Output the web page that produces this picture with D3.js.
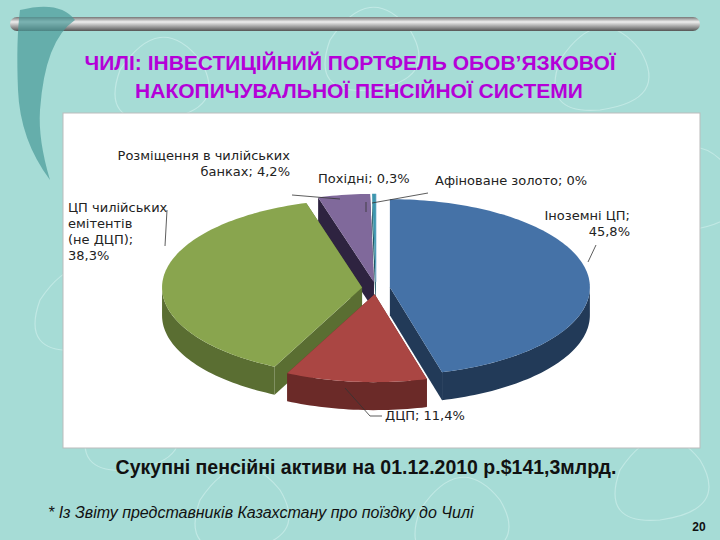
<!DOCTYPE html>
<html><head><meta charset="utf-8">
<script src="https://cdn.jsdelivr.net/npm/d3@7/dist/d3.min.js"></script>
<style>body{margin:0}svg{display:block}</style></head>
<body><svg id="c" width="720" height="540"></svg>
<script>
const categories=["Іноземні ЦП","ДЦП","ЦП чилійських емітентів (не ДЦП)","Розміщення в чилійських банках","Похідні","Афіноване золото"];
const values=[45.8,11.4,38.3,4.2,0.3,0.0];
const valueLabels=["45,8%","11,4%","38,3%","4,2%","0,3%","0%"];
const topColors=["#4572a7","#aa4643","#89a54e","#80699b","#3d96ae","#a0c0e0"];
const sideColors=["#223a58","#6b2a28","#5a6e32","#2e2340","#1f5966","#6080a0"];

const svg=d3.select("#c");
svg.append("rect").attr("width",720).attr("height",540).attr("fill","#a6dcd6");
const sw=svg.append("g").attr("fill","none").attr("stroke","#c8ece8").attr("stroke-width",1.2).attr("opacity",0.8);
[[120,70],[330,40],[560,60],[650,180],[40,300],[620,470],[200,500],[420,510],[90,420]].forEach(([x,y])=>{
  sw.append("path").attr("d",`M${x},${y} q40,-60 80,-10 q30,50 -40,60 q-60,5 -40,-50`);
});
const rg=svg.append("defs").append("linearGradient").attr("id","rod").attr("x1",0).attr("y1",0).attr("x2",0).attr("y2",1);
rg.append("stop").attr("offset","0").attr("stop-color","#777");
rg.append("stop").attr("offset","0.35").attr("stop-color","#eee");
rg.append("stop").attr("offset","1").attr("stop-color","#555");
svg.append("rect").attr("x",10).attr("y",17).attr("width",690).attr("height",14).attr("rx",7).attr("fill","url(#rod)");
svg.append("path").attr("d","M20,10 Q60,0 75,20 Q45,40 40,110 Q38,140 50,180 Q20,140 18,90 Q16,40 20,10Z").attr("fill","#4a9a98").attr("opacity",0.7);
const tf="'Liberation Sans Narrow','Liberation Sans',Arial,sans-serif";
svg.append("text").attr("x",350).attr("y",70).attr("text-anchor","middle").attr("font-family",tf).attr("font-weight","bold").attr("font-size",21).attr("fill","#b400d8").text("ЧИЛІ: ІНВЕСТИЦІЙНИЙ ПОРТФЕЛЬ ОБОВ’ЯЗКОВОЇ");
svg.append("text").attr("x",359).attr("y",98).attr("text-anchor","middle").attr("font-family",tf).attr("font-weight","bold").attr("font-size",21).attr("fill","#b400d8").text("НАКОПИЧУВАЛЬНОЇ ПЕНСІЙНОЇ СИСТЕМИ");
svg.append("rect").attr("x",63).attr("y",113).attr("width",637).attr("height",335).attr("fill","#fff").attr("stroke","#bbb");

const cx=376,cy=288,rx=200,ry=88,depth=28,expl=14;
const pie=d3.pie().sort(null).value(d=>d)(values);
const P=(a,ox,oy,dz=0)=>[ox+rx*Math.sin(a),oy-ry*Math.cos(a)+dz];
const slices=pie.map((p,i)=>{const m=(p.startAngle+p.endAngle)/2;
  return {i,a0:p.startAngle,a1:p.endAngle,m,ox:cx+expl*Math.sin(m),oy:cy-expl*Math.cos(m)*ry/rx};});
const arcPts=(s,dz)=>{const n=Math.max(2,Math.ceil((s.a1-s.a0)*40));return d3.range(n+1).map(k=>P(s.a0+(s.a1-s.a0)*k/n,s.ox,s.oy,dz));};
const line=d3.line();
const g=svg.append("g");
const order=slices.slice().sort((a,b)=>(-Math.cos(a.m))-(-Math.cos(b.m)));
order.forEach(s=>{
  if(s.a1-s.a0<=0)return;
  [s.a0,s.a1].forEach(a=>{const e=P(a,s.ox,s.oy);
    g.append("path").attr("d",line([[s.ox,s.oy],e,[e[0],e[1]+depth],[s.ox,s.oy+depth]])+"Z").attr("fill",sideColors[s.i]);});
  const lo=Math.max(s.a0,Math.PI/2),hi=Math.min(s.a1,3*Math.PI/2);
  if(hi>lo){const t={a0:lo,a1:hi,ox:s.ox,oy:s.oy};
    const top=arcPts(t,0),bot=arcPts(t,depth).reverse();
    g.append("path").attr("d",line(top.concat(bot))+"Z").attr("fill",sideColors[s.i]);}
});
order.forEach(s=>{
  if(s.a1-s.a0<=0){const e=P(s.a0,s.ox,s.oy);g.append("line").attr("x1",s.ox).attr("y1",s.oy).attr("x2",e[0]).attr("y2",e[1]).attr("stroke",topColors[s.i]);return;}
  g.append("path").attr("d",line([[s.ox,s.oy]].concat(arcPts(s,0)))+"Z").attr("fill",topColors[s.i]);
});

const lf="'DejaVu Sans',Verdana,sans-serif";
const labels=[
 {lines:["Іноземні ЦП;","45,8%"],x:630,y:220,anchor:"end",lead:[[596,245],[588,262]]},
 {lines:["ДЦП; 11,4%"],x:385,y:420,anchor:"start",lead:[[382,416],[370,416],[345,388]]},
 {lines:["ЦП чилійських","емітентів","(не ДЦП);","38,3%"],x:68,y:212,anchor:"start",lead:[[167,210],[165,246]]},
 {lines:["Розміщення в чилійських","банках; 4,2%"],x:290,y:160,anchor:"end",lead:[[292,195],[340,199]]},
 {lines:["Похідні; 0,3%"],x:318,y:183,anchor:"start",lead:[[366,202],[366,212]]},
 {lines:["Афіноване золото; 0%"],x:435,y:185,anchor:"start",lead:[[428,193],[372,203]]}
];
labels.forEach(l=>{
  const t=svg.append("text").attr("font-family",lf).attr("font-size",13).attr("fill","#222").attr("text-anchor",l.anchor);
  l.lines.forEach((s,k)=>t.append("tspan").attr("x",l.x).attr("y",l.y+k*16).text(s));
  svg.append("path").attr("d",line(l.lead)).attr("fill","none").attr("stroke","#333").attr("stroke-width",0.8);
});

svg.append("text").attr("x",366).attr("y",474).attr("text-anchor","middle").attr("font-family","'Liberation Sans',Arial,sans-serif").attr("font-weight","bold").attr("font-size",19.5).attr("fill","#111").text("Сукупні пенсійні активи на 01.12.2010 р.$141,3млрд.");
svg.append("text").attr("x",48).attr("y",518).attr("font-family","'Liberation Sans',Arial,sans-serif").attr("font-style","italic").attr("font-size",16).attr("fill","#111").text("* Із Звіту представників Казахстану про поїздку до Чилі");
svg.append("text").attr("x",699).attr("y",531).attr("text-anchor","middle").attr("font-family","'Liberation Sans',Arial,sans-serif").attr("font-weight","bold").attr("font-size",12).attr("fill","#111").text("20");
</script></body></html>
